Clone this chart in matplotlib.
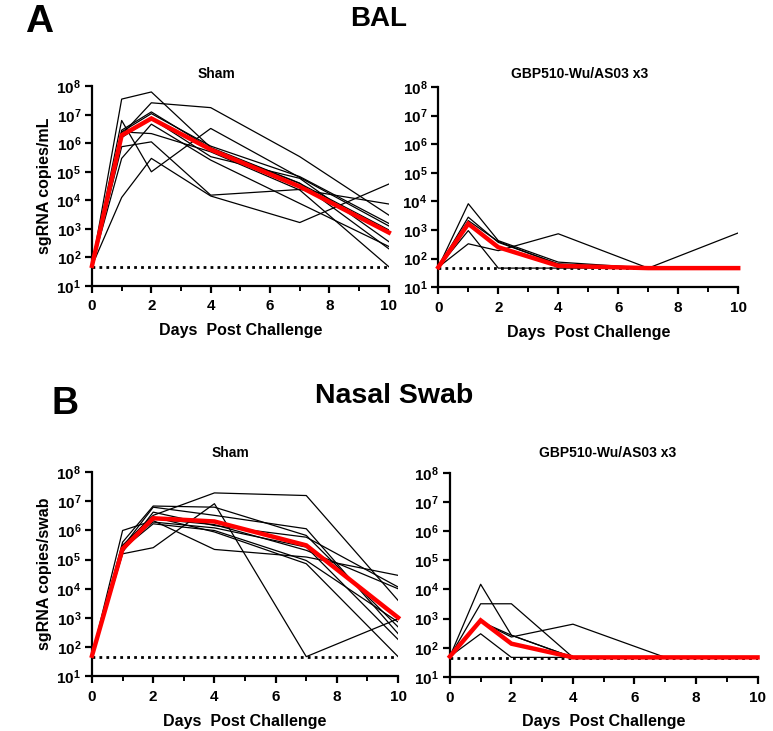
# Viral sgRNA in BAL and nasal swab after challenge, sham vs vaccinated.
import matplotlib
matplotlib.use('Agg')
import matplotlib.pyplot as plt
from matplotlib.ticker import FixedLocator, NullLocator

plt.rcParams['font.family'] = ['Liberation Sans', 'DejaVu Sans']
plt.rcParams['font.weight'] = 'bold'
plt.rcParams['mathtext.fontset'] = 'custom'
plt.rcParams['mathtext.rm'] = 'Liberation Sans:bold'
plt.rcParams['mathtext.bf'] = 'Liberation Sans:bold'

days = [0, 1, 2, 4, 7, 10]
lod = 46

# log10 values, one row per animal
bal_sham = [
    [1.7, 7.55, 7.80, 5.85, 4.60, 2.30],
    [1.7, 6.30, 7.42, 7.25, 5.53, 3.48],
    [1.7, 6.80, 5.00, 6.52, 4.80, 3.10],
    [1.7, 4.10, 5.47, 4.15, 3.22, 4.57],
    [1.7, 6.40, 7.04, 5.90, 4.83, 3.19],
    [1.7, 6.46, 7.10, 5.82, 4.59, 2.96],
    [1.7, 5.88, 6.05, 4.18, 4.38, 3.87],
    [1.7, 5.47, 6.67, 5.41, 3.89, 2.38],
    [1.7, 6.40, 6.34, 5.70, 4.36, 1.67],
    [1.7, 6.20, 6.87, 5.53, 4.77, 2.55],
]
bal_sham_mean = [1.7, 6.28, 6.87, 5.78, 4.48, 2.87]

bal_vax = [
    [1.7, 3.92, 2.63, 1.88, 1.67, 1.67],
    [1.7, 3.45, 2.57, 1.82, 1.67, 1.67],
    [1.7, 3.33, 2.60, 1.80, 1.67, 1.67],
    [1.7, 2.98, 1.67, 1.67, 1.67, 1.67],
    [1.7, 2.52, 2.28, 2.87, 1.67, 2.90],
]
bal_vax_mean = [1.7, 3.22, 2.40, 1.75, 1.67, 1.67]

nasal_sham = [
    [1.7, 5.49, 6.52, 7.29, 7.20, 3.60],
    [1.7, 5.20, 5.41, 6.92, 1.67, 2.97],
    [1.7, 6.00, 6.34, 5.35, 5.09, 4.46],
    [1.7, 5.60, 6.84, 6.80, 5.83, 2.69],
    [1.7, 5.43, 6.80, 6.52, 6.06, 2.46],
    [1.7, 5.26, 6.63, 6.17, 5.77, 4.06],
    [1.7, 5.49, 6.29, 6.09, 5.43, 2.26],
    [1.7, 5.37, 6.23, 6.00, 4.97, 2.86],
    [1.7, 5.30, 6.46, 5.95, 4.86, 1.67],
    [1.7, 5.40, 6.40, 6.20, 5.32, 4.00],
]
nasal_sham_mean = [1.7, 5.37, 6.42, 6.31, 5.49, 3.01]

nasal_vax = [
    [1.7, 4.18, 2.43, 1.67, 1.67, 1.67],
    [1.7, 3.51, 3.51, 1.67, 1.67, 1.67],
    [1.7, 2.90, 2.37, 2.81, 1.67, 1.67],
    [1.7, 2.48, 1.67, 1.67, 1.67, 1.67],
    [1.7, 2.90, 2.43, 1.67, 1.67, 1.67],
]
nasal_vax_mean = [1.7, 2.94, 2.14, 1.67, 1.67, 1.67]

y_ticks = [10 ** k for k in range(1, 9)]
y_labels = [r'$\mathbf{10^{%d}}$' % k for k in range(1, 9)]


def draw_panel(ax, animals, mean, ylabel=None):
    for row in animals:
        ax.plot(days, [10 ** v for v in row], color='black', lw=0.9)
    ax.plot(days, [10 ** v for v in mean], color='#ff0000', lw=3.2,
            solid_joinstyle='miter', zorder=5, clip_on=False)
    ax.plot([0, 10], [lod, lod], color='black', lw=2, ls=(0, (1, 1.5)),
            zorder=4)
    ax.set_yscale('log')
    ax.set_xlim(0, 10)
    ax.set_ylim(10, 1e8)
    ax.yaxis.set_major_locator(FixedLocator(y_ticks))
    ax.yaxis.set_minor_locator(NullLocator())
    ax.set_yticklabels(y_labels)
    ax.set_xticks([0, 2, 4, 6, 8, 10])
    ax.set_xticks([1, 3, 5, 7, 9], minor=True)
    for s in ['top', 'right']:
        ax.spines[s].set_visible(False)
    for s in ['left', 'bottom']:
        ax.spines[s].set_linewidth(1.6)
    ax.tick_params(which='major', length=4.8, width=1.6, labelsize=11,
                   direction='out')
    ax.tick_params(axis='x', which='major', pad=5)
    ax.tick_params(axis='y', which='major', pad=3)
    ax.tick_params(which='minor', length=3.8, width=1.4)
    for lab in ax.get_xticklabels():
        lab.set_fontweight('bold')
    ax.set_xlabel('Days  Post Challenge', fontsize=11.5, fontweight='bold',
                  labelpad=7)
    if ylabel:
        ax.set_ylabel(ylabel, fontsize=11.5, fontweight='bold', labelpad=3)


fig = plt.figure(figsize=(7.73, 7.31), dpi=100)

ax1 = fig.add_axes([0.119, 0.609, 0.384, 0.273])
ax2 = fig.add_axes([0.567, 0.607, 0.388, 0.274])
ax3 = fig.add_axes([0.119, 0.075, 0.396, 0.279])
ax4 = fig.add_axes([0.582, 0.074, 0.398, 0.279])

draw_panel(ax1, bal_sham, bal_sham_mean, 'sgRNA copies/mL')
draw_panel(ax2, bal_vax, bal_vax_mean)
draw_panel(ax3, nasal_sham, nasal_sham_mean, 'sgRNA copies/swab')
draw_panel(ax4, nasal_vax, nasal_vax_mean)

W, H = 773, 731


def ftext(x, y, s, size):
    fig.text(x / W, 1 - y / H, s, fontsize=size, fontweight='bold',
             ha='center', va='center')


ftext(39, 22, 'A', 28)
ftext(379, 19, 'BAL', 20)
ftext(65, 404, 'B', 27)
ftext(394, 396, 'Nasal Swab', 20.5)

ftext(216, 74, 'Sham', 10)
ftext(580, 74, 'GBP510-Wu/AS03 x3', 10)
ftext(230, 453, 'Sham', 10)
ftext(608, 453, 'GBP510-Wu/AS03 x3', 10)

fig.savefig('out.png', dpi=100)
